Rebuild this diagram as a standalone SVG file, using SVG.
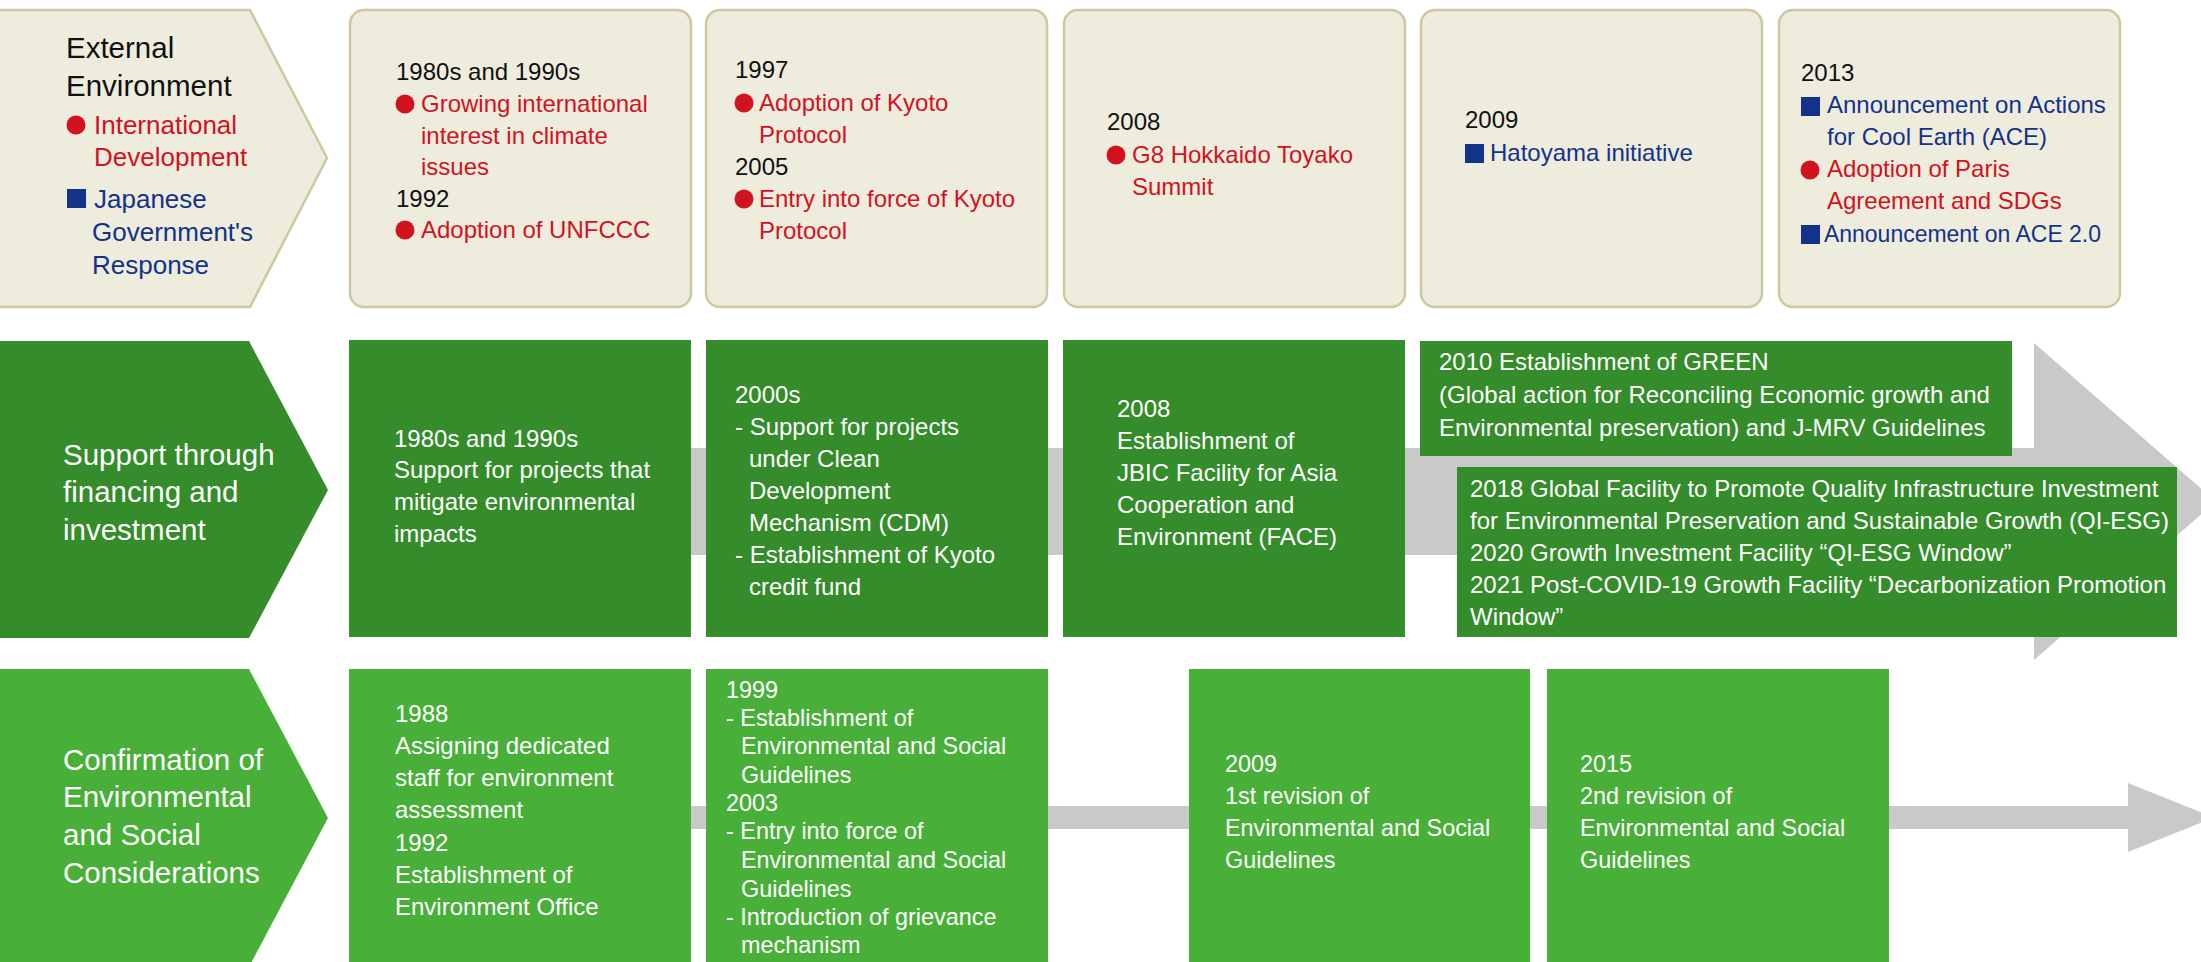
<svg xmlns="http://www.w3.org/2000/svg" width="2201" height="962" viewBox="0 0 2201 962">
  <style>
    text { font-family: "Liberation Sans", Arial, sans-serif; font-size: 24px; }
    .head { font-size: 29.5px; }
    .key { font-size: 26px; }
    .tight { font-size: 23.4px; }
    .blk { fill: #111111; }
    .red { fill: #d3121f; }
    .blu { fill: #13328a; }
    .wht { fill: #ffffff; }
    .event { fill: #eeecdd; stroke: #cdc8a0; stroke-width: 2.5; }
    .dark { fill: #348c2a; }
    .light { fill: #48b038; }
    .band { fill: #c8c9c8; }
  </style>
  <defs>
    <circle id="dot" r="9.5" fill="#d3121f"/>
    <rect id="sq" width="19" height="19" fill="#13328a"/>
  </defs>
  <rect width="2201" height="962" fill="#ffffff"/>

  <!-- timeline arrows behind the rows -->
  <g id="connectors">
    <path class="band" d="M400,448 H2034 V343 L2216,501.5 L2034,660 V555 H400 Z"/>
    <path class="band" d="M400,806 H2128 V783 L2214,817.5 L2128,852 V829 H400 Z"/>
  </g>

  <!-- row 1: external environment -->
  <g id="label-external">
    <path class="event" d="M-5,10 H250 L327,158 L250,307 H-5 Z"/>
    <text class="head blk" x="66" y="58">External</text>
    <text class="head blk" x="66" y="96">Environment</text>
    <use href="#dot" x="76" y="125"/>
    <text class="key red" x="94" y="134">International</text>
    <text class="key red" x="94" y="166">Development</text>
    <use href="#sq" x="67" y="189"/>
    <text class="key blu" x="94" y="208">Japanese</text>
    <text class="key blu" x="92" y="241">Government's</text>
    <text class="key blu" x="92" y="274">Response</text>
  </g>
  <g id="ext-1980s">
    <rect class="event" x="350" y="10" width="341" height="297" rx="14"/>
    <text class="blk" x="396" y="80">1980s and 1990s</text>
    <use href="#dot" x="405" y="104"/>
    <text class="red" x="421" y="112">Growing international</text>
    <text class="red" x="421" y="144">interest in climate</text>
    <text class="red" x="421" y="175">issues</text>
    <text class="blk" x="396" y="207">1992</text>
    <use href="#dot" x="405" y="230"/>
    <text class="red" x="421" y="238">Adoption of UNFCCC</text>
  </g>
  <g id="ext-1997">
    <rect class="event" x="706" y="10" width="341" height="297" rx="14"/>
    <text class="blk" x="735" y="78">1997</text>
    <use href="#dot" x="744" y="103"/>
    <text class="red" x="759" y="111">Adoption of Kyoto</text>
    <text class="red" x="759" y="143">Protocol</text>
    <text class="blk" x="735" y="175">2005</text>
    <use href="#dot" x="744" y="199"/>
    <text class="red" x="759" y="207">Entry into force of Kyoto</text>
    <text class="red" x="759" y="239">Protocol</text>
  </g>
  <g id="ext-2008">
    <rect class="event" x="1064" y="10" width="341" height="297" rx="14"/>
    <text class="blk" x="1107" y="130">2008</text>
    <use href="#dot" x="1116" y="155"/>
    <text class="red" x="1132" y="163">G8 Hokkaido Toyako</text>
    <text class="red" x="1132" y="195">Summit</text>
  </g>
  <g id="ext-2009">
    <rect class="event" x="1421" y="10" width="341" height="297" rx="14"/>
    <text class="blk" x="1465" y="128">2009</text>
    <use href="#sq" x="1465" y="144"/>
    <text class="blu" x="1490" y="161">Hatoyama initiative</text>
  </g>
  <g id="ext-2013">
    <rect class="event" x="1779" y="10" width="341" height="297" rx="14"/>
    <text class="blk" x="1801" y="81">2013</text>
    <use href="#sq" x="1801" y="97"/>
    <text class="blu" x="1827" y="113">Announcement on Actions</text>
    <text class="blu" x="1827" y="145">for Cool Earth (ACE)</text>
    <use href="#dot" x="1810" y="170"/>
    <text class="red" x="1827" y="177">Adoption of Paris</text>
    <text class="red" x="1827" y="209">Agreement and SDGs</text>
    <use href="#sq" x="1801" y="225"/>
    <text class="blu" x="1824" y="242" textLength="277" lengthAdjust="spacingAndGlyphs">Announcement on ACE 2.0</text>
  </g>

  <!-- row 2: financing and investment -->
  <g id="label-financing">
    <path class="dark" d="M0,341 H249 L328,490 L249,638 H0 Z"/>
    <text class="head wht" x="63" y="465">Support through</text>
    <text class="head wht" x="63" y="502">financing and</text>
    <text class="head wht" x="63" y="540">investment</text>
  </g>
  <g id="fin-1980s">
    <rect class="dark" x="349" y="340" width="342" height="297"/>
    <text class="wht" x="394" y="447">1980s and 1990s</text>
    <text class="wht" x="394" y="478">Support for projects that</text>
    <text class="wht" x="394" y="510">mitigate environmental</text>
    <text class="wht" x="394" y="542">impacts</text>
  </g>
  <g id="fin-2000s">
    <rect class="dark" x="706" y="340" width="342" height="297"/>
    <text class="wht" x="735" y="403">2000s</text>
    <text class="wht" x="735" y="435">- Support for projects</text>
    <text class="wht" x="749" y="467">under Clean</text>
    <text class="wht" x="749" y="499">Development</text>
    <text class="wht" x="749" y="531">Mechanism (CDM)</text>
    <text class="wht" x="735" y="563">- Establishment of Kyoto</text>
    <text class="wht" x="749" y="595">credit fund</text>
  </g>
  <g id="fin-2008">
    <rect class="dark" x="1063" y="340" width="342" height="297"/>
    <text class="wht" x="1117" y="417">2008</text>
    <text class="wht" x="1117" y="449">Establishment of</text>
    <text class="wht" x="1117" y="481">JBIC Facility for Asia</text>
    <text class="wht" x="1117" y="513">Cooperation and</text>
    <text class="wht" x="1117" y="545">Environment (FACE)</text>
  </g>
  <g id="fin-2010">
    <rect class="dark" x="1420" y="341" width="592" height="115"/>
    <text class="wht" x="1439" y="370">2010 Establishment of GREEN</text>
    <text class="wht" x="1439" y="403">(Global action for Reconciling Economic growth and</text>
    <text class="wht" x="1439" y="436">Environmental preservation) and J-MRV Guidelines</text>
  </g>
  <g id="fin-2018">
    <rect class="dark" x="1457" y="467" width="720" height="170"/>
    <text class="wht" x="1470" y="497">2018 Global Facility to Promote Quality Infrastructure Investment</text>
    <text class="wht" x="1470" y="529">for Environmental Preservation and Sustainable Growth (QI-ESG)</text>
    <text class="wht" x="1470" y="561">2020 Growth Investment Facility “QI-ESG Window”</text>
    <text class="wht" x="1470" y="593">2021 Post-COVID-19 Growth Facility “Decarbonization Promotion</text>
    <text class="wht" x="1470" y="625">Window”</text>
  </g>

  <!-- row 3: environmental and social considerations -->
  <g id="label-considerations">
    <path class="light" d="M0,669 H249 L328,818 L249,967 H0 Z"/>
    <text class="head wht" x="63" y="770">Confirmation of</text>
    <text class="head wht" x="63" y="807">Environmental</text>
    <text class="head wht" x="63" y="845">and Social</text>
    <text class="head wht" x="63" y="883">Considerations</text>
  </g>
  <g id="con-1988">
    <rect class="light" x="349" y="669" width="342" height="300"/>
    <text class="wht" x="395" y="722">1988</text>
    <text class="wht" x="395" y="754">Assigning dedicated</text>
    <text class="wht" x="395" y="786">staff for environment</text>
    <text class="wht" x="395" y="818">assessment</text>
    <text class="wht" x="395" y="851">1992</text>
    <text class="wht" x="395" y="883">Establishment of</text>
    <text class="wht" x="395" y="915">Environment Office</text>
  </g>
  <g id="con-1999">
    <rect class="light" x="706" y="669" width="342" height="300"/>
    <text class="tight wht" x="726" y="698">1999</text>
    <text class="tight wht" x="726" y="726">- Establishment of</text>
    <text class="tight wht" x="741" y="754">Environmental and Social</text>
    <text class="tight wht" x="741" y="783">Guidelines</text>
    <text class="tight wht" x="726" y="811">2003</text>
    <text class="tight wht" x="726" y="839">- Entry into force of</text>
    <text class="tight wht" x="741" y="868">Environmental and Social</text>
    <text class="tight wht" x="741" y="897">Guidelines</text>
    <text class="tight wht" x="726" y="925">- Introduction of grievance</text>
    <text class="tight wht" x="741" y="953">mechanism</text>
  </g>
  <g id="con-2009">
    <rect class="light" x="1189" y="669" width="341" height="300"/>
    <text class="tight wht" x="1225" y="772">2009</text>
    <text class="tight wht" x="1225" y="804">1st revision of</text>
    <text class="tight wht" x="1225" y="836">Environmental and Social</text>
    <text class="tight wht" x="1225" y="868">Guidelines</text>
  </g>
  <g id="con-2015">
    <rect class="light" x="1547" y="669" width="342" height="300"/>
    <text class="tight wht" x="1580" y="772">2015</text>
    <text class="tight wht" x="1580" y="804">2nd revision of</text>
    <text class="tight wht" x="1580" y="836">Environmental and Social</text>
    <text class="tight wht" x="1580" y="868">Guidelines</text>
  </g>
</svg>
